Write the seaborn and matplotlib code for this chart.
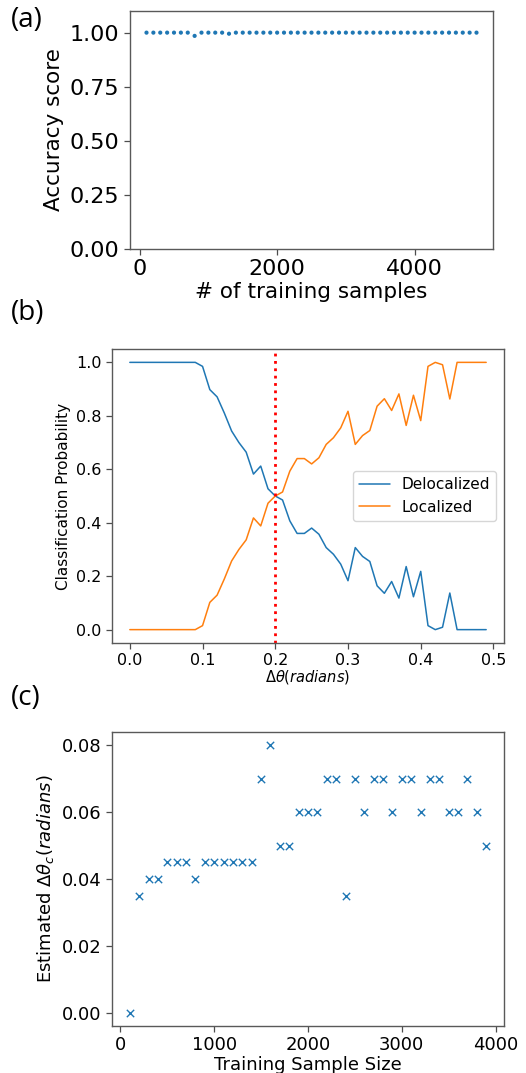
import numpy as np
import pandas as pd
import matplotlib
matplotlib.use('Agg')
import matplotlib.pyplot as plt
import seaborn as sns

# ---- data ----
# (a) accuracy vs number of training samples
n_train = list(range(100, 5000, 100))
accuracy = [1.0] * len(n_train)
accuracy[n_train.index(800)] = 0.985
accuracy[n_train.index(1300)] = 0.995

# (b) classification probability vs delta theta
dtheta = [round(0.01 * i, 2) for i in range(50)]
delocalized = [1.0, 1.0, 1.0, 1.0, 1.0, 1.0, 1.0, 1.0, 1.0, 1.0,
               0.985, 0.898, 0.871, 0.81, 0.743, 0.70, 0.664, 0.582, 0.612, 0.527,
               0.50, 0.485, 0.407, 0.36, 0.36, 0.38, 0.357, 0.307, 0.282, 0.245,
               0.183, 0.307, 0.274, 0.255, 0.164, 0.136, 0.18, 0.118, 0.236, 0.123,
               0.218, 0.015, 0.0, 0.009, 0.137, 0.0, 0.0, 0.0, 0.0, 0.0]
localized = [0.0, 0.0, 0.0, 0.0, 0.0, 0.0, 0.0, 0.0, 0.0, 0.0,
             0.015, 0.102, 0.129, 0.19, 0.257, 0.30, 0.336, 0.418, 0.388, 0.473,
             0.50, 0.515, 0.593, 0.64, 0.64, 0.62, 0.643, 0.693, 0.718, 0.755,
             0.817, 0.693, 0.726, 0.745, 0.836, 0.864, 0.82, 0.882, 0.764, 0.877,
             0.782, 0.985, 1.0, 0.991, 0.863, 1.0, 1.0, 1.0, 1.0, 1.0]
theta_c_line = 0.2

# (c) estimated critical delta theta vs training sample size
sample_size = list(range(100, 4000, 100))
theta_c = [0.0, 0.035, 0.04, 0.04, 0.045, 0.045, 0.045, 0.04, 0.045, 0.045,
           0.045, 0.045, 0.045, 0.045, 0.07, 0.08, 0.05, 0.05, 0.06, 0.06,
           0.06, 0.07, 0.07, 0.035, 0.07, 0.06, 0.07, 0.07, 0.06, 0.07,
           0.07, 0.06, 0.07, 0.07, 0.06, 0.06, 0.07, 0.06, 0.05]

df_a = pd.DataFrame({'n': n_train, 'acc': accuracy})
df_b = pd.DataFrame({'dtheta': dtheta * 2,
                     'prob': delocalized + localized,
                     'phase': ['Delocalized'] * len(dtheta) + ['Localized'] * len(dtheta)})
df_c = pd.DataFrame({'size': sample_size, 'theta_c': theta_c})

sns.set_style('white')
plt.rcParams['font.family'] = ['DejaVu Sans']
plt.rcParams['mathtext.fontset'] = 'dejavusans'
for k in ('text.color', 'axes.labelcolor', 'xtick.color', 'ytick.color'):
    plt.rcParams[k] = 'black'

fig = plt.figure(figsize=(5.26, 10.73), dpi=100)
W, H = 526, 1073


def box(l, t, r, b):
    return [l / W, (H - b) / H, (r - l) / W, (b - t) / H]


ax_a = fig.add_axes(box(130, 11, 493, 249))
ax_b = fig.add_axes(box(112, 349, 504, 643))
ax_c = fig.add_axes(box(112, 732, 504, 1026))

blue = '#1f77b4'
orange = '#ff7f0e'

# Plot (a)
sns.scatterplot(data=df_a, x='n', y='acc', ax=ax_a, color=blue, s=9, edgecolor='none')
ax_a.set_ylim(0, 1.1)
ax_a.set_yticks([0, 0.25, 0.5, 0.75, 1.0])
ax_a.set_xticks([0, 2000, 4000])
ax_a.set_xlabel('# of training samples', fontsize=15.5, labelpad=2)
ax_a.set_ylabel('Accuracy score', fontsize=15.5, labelpad=4)
ax_a.tick_params(labelsize=16)

# Plot (b)
sns.lineplot(data=df_b, x='dtheta', y='prob', hue='phase', ax=ax_b,
             palette=[blue, orange], linewidth=1.1)
ax_b.axvline(theta_c_line, color='red', linestyle=':', linewidth=2)
ax_b.set_xticks([0, 0.1, 0.2, 0.3, 0.4, 0.5])
ax_b.set_xlabel(r'$\Delta\theta (radians)$', fontsize=10.5, labelpad=0)
ax_b.set_ylabel('Classification Probability', fontsize=11)
ax_b.tick_params(labelsize=11.5)
handles, labels = ax_b.get_legend_handles_labels()
ax_b.legend(handles, labels, loc='center right', fontsize=11, handlelength=2.0)

# Plot (c)
sns.scatterplot(data=df_c, x='size', y='theta_c', ax=ax_c, color=blue,
                marker='x', s=28, linewidth=1.0)
ax_c.set_yticks([0, 0.02, 0.04, 0.06, 0.08])
ax_c.set_xticks([0, 1000, 2000, 3000, 4000])
ax_c.set_xlabel('Training Sample Size', fontsize=13, labelpad=1)
ax_c.set_ylabel(r'Estimated $\Delta\theta_c (radians)$', fontsize=13)
ax_c.tick_params(labelsize=13)

for ax in (ax_a, ax_b, ax_c):
    ax.tick_params(direction='out', length=4, width=0.9, left=True, bottom=True, color='0.3')
    for sp in ax.spines.values():
        sp.set_color('0.35')
        sp.set_linewidth(1.0)

# panel letters
for lab, y in (('(a)', 6), ('(b)', 299), ('(c)', 684)):
    fig.text(11 / W, 1 - y / H, lab, fontsize=20, family=['Open Sans', 'DejaVu Sans'],
             va='top', ha='left')

fig.savefig('out.png', dpi=100)
